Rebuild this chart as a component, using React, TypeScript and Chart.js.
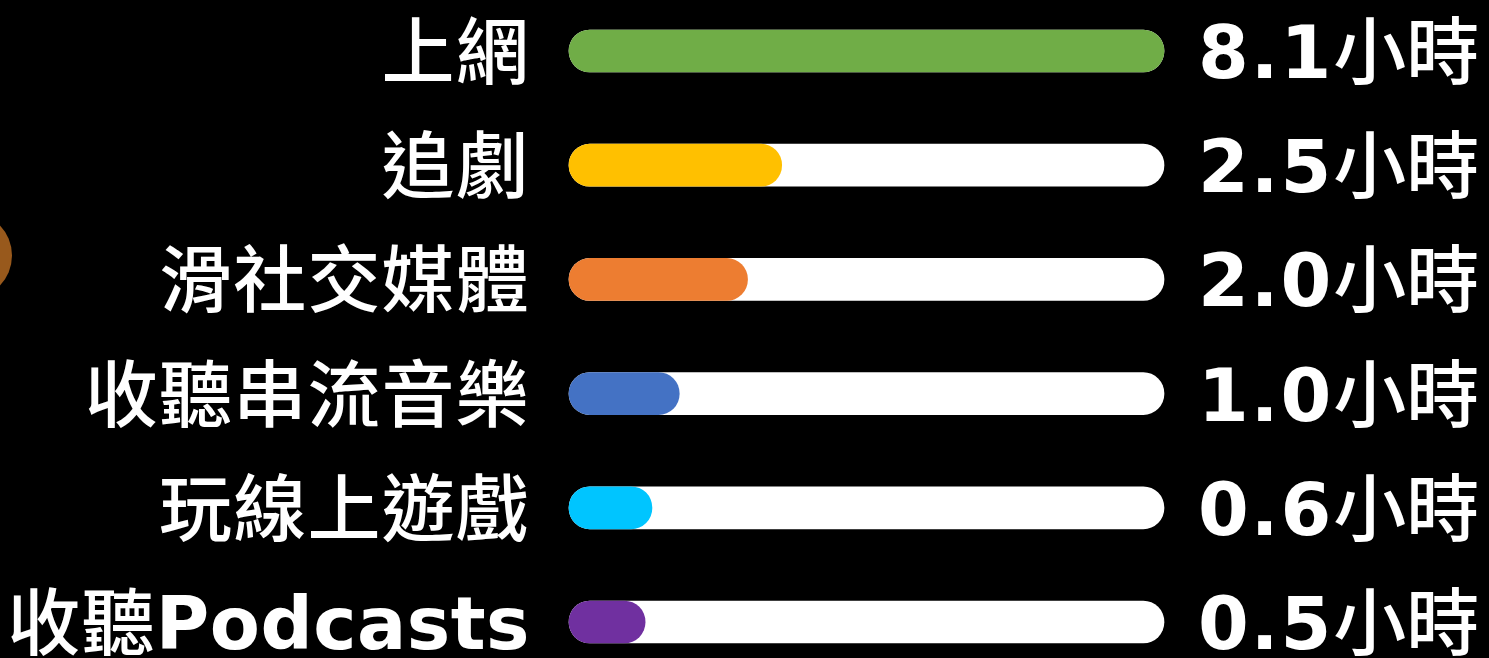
import React, { useEffect, useRef } from "react";
import { Chart, registerables } from "chart.js";

Chart.register(...registerables);

const categories = ["上網", "追劇", "滑社交媒體", "收聽串流音樂", "玩線上遊戲", "收聽Podcasts"];
const hours = [8.1, 2.5, 2.0, 1.0, 0.6, 0.5];
const valueLabels = ["8.1小時", "2.5小時", "2.0小時", "1.0小時", "0.6小時", "0.5小時"];
const barColors = ["#70AD47", "#FFC000", "#ED7D31", "#4472C4", "#00C5FF", "#7030A0"];
const maxHours = 8.1;
// extra length so the rounded cap of a zero-length bar is still a full circle
const CAP = 0.6152;

const LATIN_FONT = "bold 73px 'DejaVu Sans', 'Noto Sans CJK TC'";
const CJK_FONT = "500 73px 'Noto Sans CJK TC', 'Noto Sans CJK SC'";

function splitRuns(text: string) {
  const runs: { t: string; cjk: boolean }[] = [];
  for (const ch of text) {
    const cjk = ch.charCodeAt(0) > 0x2e80;
    const last = runs[runs.length - 1];
    if (last && last.cjk === cjk) last.t += ch;
    else runs.push({ t: ch, cjk });
  }
  return runs;
}

function drawMixed(
  ctx: CanvasRenderingContext2D,
  text: string,
  x: number,
  y: number,
  align: "left" | "right",
  latinSpacing: number,
  cjkSpacing: number
) {
  const runs = splitRuns(text);
  const setFont = (cjk: boolean) => {
    ctx.font = cjk ? CJK_FONT : LATIN_FONT;
    (ctx as any).letterSpacing = cjk ? `${cjkSpacing}px` : `${latinSpacing}px`;
  };
  let total = 0;
  const widths = runs.map((r) => {
    setFont(r.cjk);
    const w = ctx.measureText(r.t).width;
    total += w;
    return w;
  });
  let cx = align === "right" ? x - total : x;
  runs.forEach((r, i) => {
    setFont(r.cjk);
    ctx.fillText(r.t, cx, y);
    cx += widths[i];
  });
  (ctx as any).letterSpacing = "0px";
}

const labelPlugin = {
  id: "mixedLabels",
  afterDatasetsDraw(chart: any) {
    const ctx = chart.ctx as CanvasRenderingContext2D;
    const yScale = chart.scales.y;
    ctx.save();
    ctx.fillStyle = "#FFFFFF";
    ctx.textBaseline = "alphabetic";
    ctx.textAlign = "left";
    categories.forEach((cat, i) => {
      const y = yScale.getPixelForValue(i) + 27;
      drawMixed(ctx, cat, chart.chartArea.left - 39, y, "right", 0.5, 1.2);
      drawMixed(ctx, valueLabels[i], chart.chartArea.right + 34, y, "left", 2, 0);
    });
    ctx.restore();
  },
};

export default function App() {
  const ref = useRef<HTMLCanvasElement>(null);
  useEffect(() => {
    if (!ref.current) return;
    const chart = new Chart(ref.current, {
      type: "bar",
      data: {
        labels: categories,
        datasets: [
          {
            data: hours.map((h) => h + CAP),
            backgroundColor: barColors,
            borderRadius: 21,
            borderSkipped: false,
            barThickness: 42,
            grouped: false,
            order: 1,
            clip: false as any,
          },
          {
            data: hours.map(() => maxHours + CAP),
            backgroundColor: "#FFFFFF",
            borderRadius: 21,
            borderSkipped: false,
            barThickness: 42,
            grouped: false,
            order: 2,
            clip: false as any,
          },
        ],
      },
      options: {
        indexAxis: "y",
        animation: false,
        responsive: true,
        maintainAspectRatio: false,
        layout: { padding: { left: 569, right: 325, top: 51, bottom: 36 } },
        plugins: { legend: { display: false }, tooltip: { enabled: false } },
        scales: {
          x: { display: false, min: 0, max: maxHours + CAP },
          y: { display: false, offset: false },
        },
      },
      plugins: [labelPlugin],
    });
    return () => chart.destroy();
  }, []);

  return (
    <div style={{ position: "fixed", left: 0, top: 0, width: 1489, height: 658, background: "#000", overflow: "hidden" }}>
      <div
        style={{
          position: "absolute",
          left: -75,
          top: 211.5,
          width: 87,
          height: 87,
          borderRadius: "50%",
          background: "#98591C",
        }}
      />
      <div style={{ position: "absolute", left: 0, top: 0, width: 1489, height: 658 }}>
        <canvas ref={ref} />
      </div>
    </div>
  );
}
